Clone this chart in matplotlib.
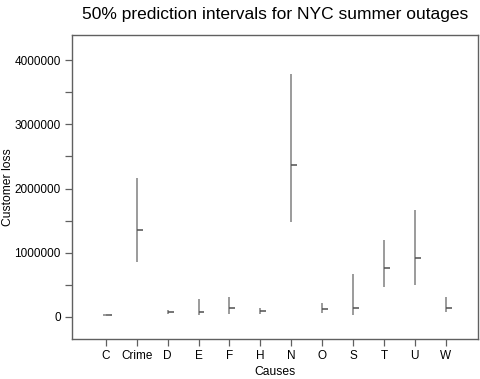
import matplotlib
matplotlib.use("Agg")
import matplotlib.pyplot as plt
import numpy as np

causes = ["C", "Crime", "D", "E", "F", "H", "N", "O", "S", "T", "U", "W"]
lower  = [0.025e6, 0.85e6, 0.042e6, 0.031e6, 0.05e6, 0.05e6, 1.48e6, 0.0625e6, 0.03e6, 0.47e6, 0.50e6, 0.07e6]
median = [0.030e6, 1.355e6, 0.073e6, 0.083e6, 0.135e6, 0.09e6, 2.37e6, 0.12e6, 0.135e6, 0.755e6, 0.91e6, 0.145e6]
upper  = [0.035e6, 2.16e6, 0.114e6, 0.277e6, 0.31e6, 0.135e6, 3.78e6, 0.219e6, 0.667e6, 1.20e6, 1.66e6, 0.31e6]

plt.rcParams['font.family'] = ['Liberation Sans', 'DejaVu Sans']

fig = plt.figure(figsize=(4.8, 3.79), dpi=100)
ax = fig.add_axes([0.15, 0.1055, 0.846, 0.802])

x = np.arange(1, len(causes) + 1)
ax.vlines(x, lower, upper, color="#808080", lw=1.1)
ax.hlines(median, x, x + 0.19, color="#505050", lw=1.1)
# C has an essentially flat interval
ax.hlines([median[0]], [x[0] - 0.1], [x[0] + 0.12], color="#808080", lw=1.1)

ax.set_xlim(-0.1, 13.05)
ax.set_ylim(-0.344e6, 4.39e6)
ax.set_xticks(x)
ax.set_xticklabels(causes, fontsize=8.5)
yt = np.arange(0, 4.0e6 + 1, 0.5e6)
ax.set_yticks(yt)
ax.set_yticklabels([f"{int(v)}" if v % 1e6 == 0 else "" for v in yt], fontsize=8.5)
ax.tick_params(length=5, width=0.9, color="#606060", pad=3)
for s in ax.spines.values():
    s.set_color("#606060")
    s.set_linewidth(1.0)

ax.set_xlabel("Causes", fontsize=8.7, labelpad=3)
ax.set_ylabel("Customer loss", fontsize=8.7)
ax.yaxis.set_label_coords(-0.143, 0.5)
fig.text(0.573, 0.963, "50% prediction intervals for NYC summer outages",
         ha="center", va="center", fontsize=12.5)

fig.savefig("out.png", dpi=100)
